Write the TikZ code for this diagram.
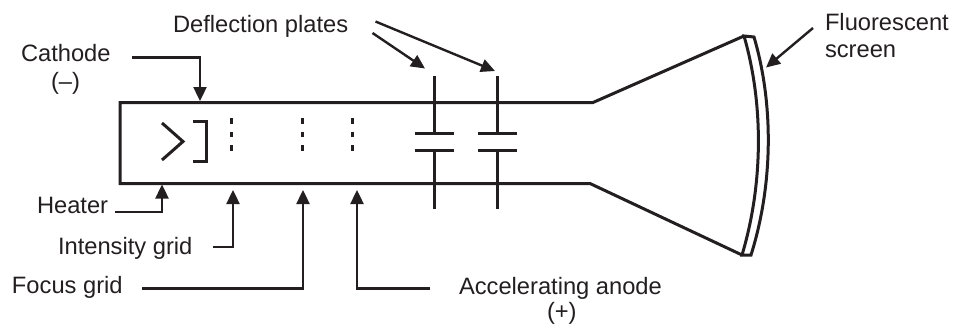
\documentclass[tikz,border=0pt]{standalone}
\usepackage{fontspec}
\setmainfont{Liberation Sans}
\usetikzlibrary{arrows.meta}
\definecolor{ink}{HTML}{231F20}
\tikzset{
  x=1pt,y=-1pt,
  lbl/.style={inner sep=0pt,outer sep=0pt,anchor=base west,text=ink,font=\fontsize{23.7}{27.5}\selectfont},
  tube/.style={draw=ink,line width=3pt,line join=miter},
  part/.style={draw=ink,line width=3pt},
  lead/.style={draw=ink,line width=2.4pt,-{Triangle[length=14pt,width=13pt]}},
  dots/.style={draw=ink,line width=3pt,dash pattern=on 5.5pt off 8pt},
}
\begin{document}
\begin{tikzpicture}
\useasboundingbox (0,0) rectangle (953,324);
% labels
\node[lbl] (deflection) at (173,32) {Deflection plates};
\node[lbl] (cathode) at (21,61) {Cathode};
\node[lbl] (minus) at (51,89.5) {(–)};
\node[lbl] (heater) at (37,213.5) {Heater};
\node[lbl] (intensity) at (58,254) {Intensity grid};
\node[lbl] (focus) at (12,293) {Focus grid};
\node[lbl] (anode) at (459,294) {Accelerating anode};
\node[lbl] (plus) at (547,319) {(+)};
\node[lbl] (fluor) at (825,30) {Fluorescent};
\node[lbl] (screen) at (825,57.5) {screen};
% tube
\coordinate (tl) at (120,102.5);
\coordinate (tr) at (593,102.5);
\coordinate (bl) at (120,183.5);
\coordinate (br) at (590,183.5);
\coordinate (st) at (744,36);
\coordinate (sb) at (742,255);
\coordinate (ot) at (754,37);
\coordinate (ob) at (751,255);
\draw[tube] (st) -- (tr) -- (tl) -- (bl) -- (br) -- (sb);
% screen
\draw[part] (st) .. controls (764,105) and (763,185) .. (sb) -- (ob)
  .. controls (773,185) and (774,105) .. (ot) -- cycle;
% cathode and heater
\draw[part] (162,123) -- (183,141.5) -- (162,160);
\draw[part] (193,121) -- (206,121) -- (206,161) -- (193,161);
% grids
\draw[dots] (231,118) -- (231,151);
\draw[dots] (302.5,118) -- (302.5,151);
\draw[dots] (352,118) -- (352,151);
% deflection plates
\foreach \px/\nm in {434/a,497.5/b}{
  \coordinate (plate\nm top) at (\px,76);
  \coordinate (plate\nm up) at (\px,133.5);
  \coordinate (plate\nm lo) at (\px,150.5);
  \coordinate (plate\nm bot) at (\px,209);
  \draw[part] (plate\nm top) -- (plate\nm up);
  \draw[part] (plate\nm lo) -- (plate\nm bot);
  \draw[part] ([xshift=-19.5pt]plate\nm up) -- ([xshift=19.5pt]plate\nm up);
  \draw[part] ([xshift=-19.5pt]plate\nm lo) -- ([xshift=19.5pt]plate\nm lo);
}
% connector ends
\coordinate (cS) at (132,57.5);
\coordinate (cT) at (200,101);
\coordinate (hS) at (115,212);
\coordinate (hT) at (162,184.5);
\coordinate (iS) at (213,247);
\coordinate (iT) at (233,190);
\coordinate (fS) at (142,288.5);
\coordinate (fT) at (303,190);
\coordinate (aS) at (430,288.5);
\coordinate (aT) at (357,190);
\coordinate (d1S) at (372.5,33);
\coordinate (d1T) at (425,68.5);
\coordinate (d2S) at (375.5,21.5);
\coordinate (d2T) at (495,71);
\coordinate (sS) at (813,28);
\coordinate (sT) at (766,67.5);
% connectors
\draw[lead] (cS) -| (cT);
\draw[lead] (hS) -| (hT);
\draw[lead] (iS) -| (iT);
\draw[lead] (fS) -| (fT);
\draw[lead] (aS) -| (aT);
\draw[lead] (d1S) -- (d1T);
\draw[lead] (d2S) -- (d2T);
\draw[lead] (sS) -- (sT);
\end{tikzpicture}
\end{document}
